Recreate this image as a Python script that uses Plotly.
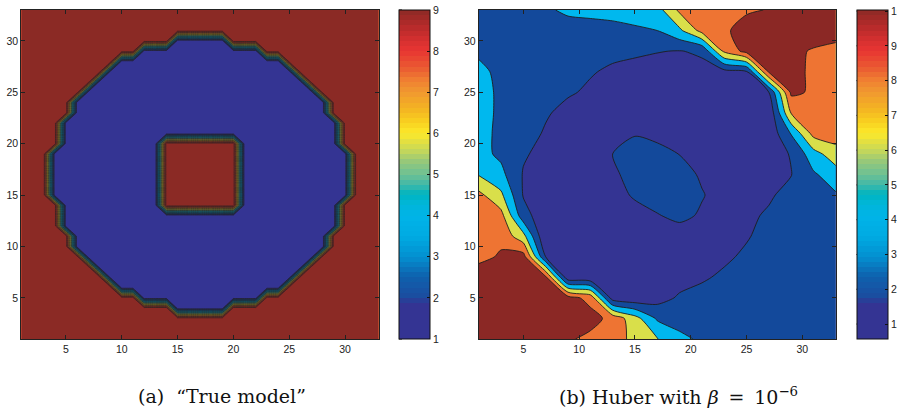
import plotly.graph_objects as go

# ---------------- data ----------------
# Panel (a): "True model" on a 33 x 33 grid
grid_coords = list(range(1, 34))
ring_center = 17
# half-width (in cells) of the low-valued disc for each |row - centre| = 0..13
ring_half_width = [13, 13, 13, 12, 12, 12, 11, 11, 10, 9, 8, 7, 5, 2]
square_lo, square_hi = 14, 20          # central high-valued square
true_high = 9.0
true_low = 1.0

# Panel (b): Huber reconstruction, read on a coarse grid (x, y = 1, 3, ..., 33)
huber_x = list(range(1, 34, 2))
huber_y = list(range(1, 34, 2))
huber_z = [
    [9.8, 10.0, 9.9, 9.5, 8.2, 7.6, 7.0, 6.2, 5.05, 3.8, 3.3, 3.1, 3.0, 3.0, 3.0, 3.0, 3.0],   # y=1
    [9.9, 10.0, 9.9, 9.6, 9.2, 8.6, 7.5, 5.6, 3.3, 3.0, 2.9, 2.9, 2.9, 2.9, 2.9, 2.9, 2.9],    # y=3
    [9.6, 9.8, 9.6, 9.3, 8.6, 7.5, 1.3, 0.9, 1.4, 2.2, 2.4, 2.6, 2.8, 2.9, 3.0, 3.0, 3.0],     # y=5
    [9.0, 9.3, 9.0, 8.3, 1.0, 0.8, 0.9, 1.1, 1.2, 1.4, 1.85, 2.2, 2.4, 2.6, 2.8, 2.9, 3.0],    # y=7
    [7.5, 8.2, 8.6, 2.0, 0.8, 0.9, 1.1, 1.3, 1.4, 1.5, 1.6, 1.8, 2.2, 2.5, 2.7, 2.9, 3.0],     # y=9
    [7.6, 7.6, 5.5, 0.6, 0.9, 1.1, 1.3, 1.5, 1.6, 1.6, 1.5, 1.6, 1.9, 2.4, 2.7, 2.9, 3.0],     # y=11
    [7.4, 7.0, 2.6, 1.0, 1.1, 1.2, 1.4, 1.7, 1.95, 2.2, 1.9, 1.6, 1.7, 2.2, 2.6, 2.9, 3.1],    # y=13
    [6.9, 5.3, 1.9, 1.4, 1.2, 1.4, 1.7, 2.1, 2.35, 2.3, 2.05, 1.7, 1.5, 1.8, 2.5, 3.0, 3.35],  # y=15
    [4.9, 3.9, 1.9, 1.5, 1.3, 1.5, 1.85, 2.3, 2.4, 2.3, 1.9, 1.6, 1.4, 1.4, 1.95, 3.3, 4.3],   # y=17
    [4.0, 3.2, 2.15, 1.6, 1.4, 1.6, 2.0, 2.3, 2.35, 1.98, 1.6, 1.3, 1.2, 1.3, 2.1, 4.4, 5.9],  # y=19
    [3.8, 3.3, 2.6, 1.85, 1.5, 1.4, 1.9, 1.95, 1.7, 1.5, 1.3, 1.2, 1.2, 0.9, 3.6, 7.0, 7.2],   # y=21
    [3.9, 3.3, 2.8, 2.15, 1.6, 1.4, 1.2, 1.1, 1.05, 1.05, 1.1, 1.2, 1.3, 0.8, 6.6, 7.4, 7.2],  # y=23
    [3.9, 3.3, 3.0, 2.6, 2.15, 1.8, 1.5, 1.3, 1.2, 1.2, 1.3, 1.5, 1.7, 2.0, 8.3, 7.8, 7.3],    # y=25
    [3.8, 3.2, 2.9, 2.6, 2.3, 2.1, 1.8, 1.6, 1.5, 1.5, 1.6, 1.5, 1.9, 8.2, 8.5, 7.7, 7.4],     # y=27
    [3.3, 3.0, 2.8, 2.6, 2.5, 2.4, 2.3, 2.2, 2.05, 1.95, 2.2, 6.8, 8.5, 8.8, 8.5, 7.8, 7.5],   # y=29
    [2.6, 2.6, 2.7, 2.8, 2.9, 3.0, 3.1, 3.3, 3.5, 4.7, 7.0, 7.8, 8.5, 8.9, 9.2, 9.1, 8.7],     # y=31
    [2.9, 3.0, 3.1, 3.3, 3.75, 3.85, 3.95, 4.1, 4.4, 6.8, 7.2, 7.5, 7.85, 8.05, 8.6, 9.0, 9.2], # y=33
]
huber_levels = dict(start=2.0, end=8.0, size=1.5)
huber_fill_colors = ["#343493", "#13499b", "#00b8ee", "#d9df4a", "#ee7433", "#8b2825"]

axis_ticks = [5, 10, 15, 20, 25, 30]
cbar_a_ticks = [1, 2, 3, 4, 5, 6, 7, 8, 9]
cbar_a_range = (1.0, 9.0)
cbar_b_ticks = [1, 2, 3, 4, 5, 6, 7, 8, 9, 10]
cbar_b_range = (0.57, 10.03)

caption_a = "(a)  \u201cTrue model\u201d"
caption_b = "(b) Huber with <i>\u03b2</i> \u2009=\u2009 10<sup>\u22126</sup>"

# printed-jet colormap anchors
jet_pos = [0.0, 0.11, 0.125, 0.19, 0.25, 0.31, 0.375, 0.41, 0.44, 0.47, 0.5, 0.54,
           0.575, 0.625, 0.66, 0.7, 0.75, 0.79, 0.825, 0.875, 0.91, 0.95, 1.0]
jet_col = ["#343493", "#343493", "#1c4b9e", "#0e62ae", "#0490d0", "#00aae2", "#00b4e8",
           "#00b6d8", "#00b4c0", "#40b8a8", "#6cc094", "#98c878", "#c8d858", "#fce82a",
           "#f8d020", "#f4b422", "#f09830", "#f07c32", "#ea5a32", "#e83532", "#d43030",
           "#b52a2a", "#8b2a25"]


# ---------------- helpers ----------------
def hex2rgb(h):
    h = h.lstrip("#")
    return [int(h[i:i + 2], 16) for i in (0, 2, 4)]


def jet_at(f):
    for i in range(len(jet_pos) - 1):
        if jet_pos[i] <= f <= jet_pos[i + 1]:
            a, b = hex2rgb(jet_col[i]), hex2rgb(jet_col[i + 1])
            t = 0 if jet_pos[i + 1] == jet_pos[i] else (f - jet_pos[i]) / (jet_pos[i + 1] - jet_pos[i])
            c = [round(a[k] + (b[k] - a[k]) * t) for k in range(3)]
            return "rgb(%d,%d,%d)" % tuple(c)
    return jet_col[-1]


jet_smooth = [[p, c] for p, c in zip(jet_pos, jet_col)]
jet_stepped = []
nsteps = 64
for i in range(nsteps):
    c = jet_at((i + 0.5) / nsteps)
    jet_stepped.append([i / nsteps, c])
    jet_stepped.append([(i + 1) / nsteps, c])

n_fill = len(huber_fill_colors)
huber_scale = [[k / (n_fill - 1), c] for k, c in enumerate(huber_fill_colors)]

# true model grid
z_true = []
for yy in grid_coords:
    dy = abs(yy - ring_center)
    row = []
    for xx in grid_coords:
        dx = abs(xx - ring_center)
        inside = dy < len(ring_half_width) and dx <= ring_half_width[dy]
        in_sq = square_lo <= xx <= square_hi and square_lo <= yy <= square_hi
        row.append(true_high if (not inside or in_sq) else true_low)
    z_true.append(row)

# ---------------- figure ----------------
W, H = 897, 414
ydom = [1 - 339.0 / H, 1 - 10.0 / H]
xdom_a = [21.3 / W, 378.6 / W]
xdom_b = [478.7 / W, 835.8 / W]
cbar_a_x = 399.0 / W
cbar_b_x = 856.5 / W
cbar_thick = 31

fig = go.Figure()

fig.add_trace(go.Contour(
    x=grid_coords, y=grid_coords, z=z_true,
    autocontour=False,
    contours=dict(start=1.5, end=8.5, size=0.5, coloring="fill"),
    colorscale=jet_smooth, showscale=False,
    line=dict(color="#222222", width=0.7, smoothing=0),
    hoverinfo="skip", xaxis="x", yaxis="y"))

fig.add_trace(go.Contour(
    x=huber_x, y=huber_y, z=huber_z,
    autocontour=False,
    contours=dict(start=huber_levels["start"], end=huber_levels["end"],
                  size=huber_levels["size"], coloring="fill"),
    colorscale=huber_scale, showscale=False,
    line=dict(color="#1e1e1e", width=0.9, smoothing=0.7),
    hoverinfo="skip", xaxis="x2", yaxis="y2"))

tickfont = dict(family="Liberation Sans, Arial, sans-serif", size=10.5, color="#222")


def cbar(x0, ticks):
    return dict(
        x=x0, xanchor="left", y=ydom[0], yanchor="bottom",
        len=ydom[1] - ydom[0], lenmode="fraction",
        thickness=cbar_thick, thicknessmode="pixels", xpad=0, ypad=0,
        outlinewidth=1, outlinecolor="#111",
        tickvals=ticks, ticks="inside", ticklen=3, tickcolor="#111",
        tickfont=tickfont)


fig.add_trace(go.Scatter(
    x=[17], y=[17], mode="markers", hoverinfo="skip", showlegend=False,
    marker=dict(size=1, opacity=0, color=[5], cmin=cbar_a_range[0], cmax=cbar_a_range[1],
                colorscale=jet_stepped, showscale=True,
                colorbar=cbar(cbar_a_x, cbar_a_ticks)),
    xaxis="x", yaxis="y"))

fig.add_trace(go.Scatter(
    x=[17], y=[17], mode="markers", hoverinfo="skip", showlegend=False,
    marker=dict(size=1, opacity=0, color=[5], cmin=cbar_b_range[0], cmax=cbar_b_range[1],
                colorscale=jet_stepped, showscale=True,
                colorbar=cbar(cbar_b_x, cbar_b_ticks)),
    xaxis="x2", yaxis="y2"))

# tick marks on the left edge of each colour bar (MATLAB draws them on both sides)
shapes = []
for x0, rng, ticks in ((cbar_a_x, cbar_a_range, cbar_a_ticks), (cbar_b_x, cbar_b_range, cbar_b_ticks)):
    for v in ticks:
        yp = ydom[0] + (v - rng[0]) / (rng[1] - rng[0]) * (ydom[1] - ydom[0])
        if yp > ydom[1]:
            continue
        shapes.append(dict(type="line", xref="paper", yref="paper",
                           x0=x0, x1=x0 + 3.0 / W, y0=yp, y1=yp,
                           line=dict(color="#111", width=1)))

axis_common = dict(range=[1, 33], tickvals=axis_ticks, ticks="inside", ticklen=4,
                   tickcolor="#222", showline=True, linecolor="#222", linewidth=1,
                   mirror="ticks", showgrid=False, zeroline=False, tickfont=tickfont)

caption_font = dict(family="DejaVu Serif, Liberation Serif, serif", size=19, color="#111")

fig.update_layout(
    width=W, height=H,
    margin=dict(l=0, r=0, t=0, b=0, autoexpand=False),
    paper_bgcolor="white", plot_bgcolor="white",
    showlegend=False,
    xaxis=dict(domain=xdom_a, anchor="y", **axis_common),
    yaxis=dict(domain=ydom, anchor="x", **axis_common),
    xaxis2=dict(domain=xdom_b, anchor="y2", **axis_common),
    yaxis2=dict(domain=ydom, anchor="x2", **axis_common),
    shapes=shapes,
    annotations=[
        dict(text=caption_a, x=222.0 / W, y=1 - 396.0 / H, xref="paper", yref="paper",
             showarrow=False, xanchor="center", yanchor="middle", font=caption_font),
        dict(text=caption_b, x=678.0 / W, y=1 - 396.0 / H, xref="paper", yref="paper",
             showarrow=False, xanchor="center", yanchor="middle", font=caption_font),
    ],
)

fig.write_html("out.html", config={"displayModeBar": False},
               post_script="document.body.style.margin='0px';")
